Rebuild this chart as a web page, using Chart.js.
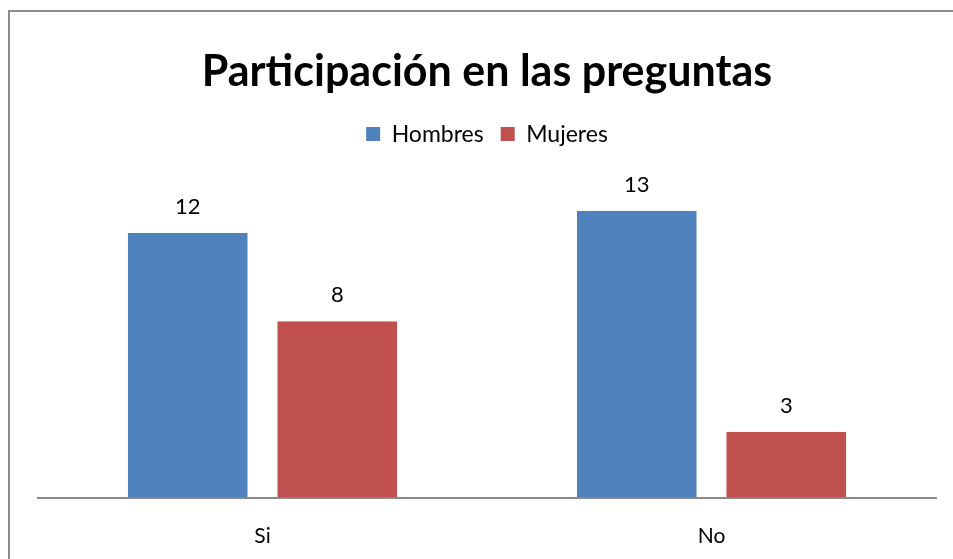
<!DOCTYPE html>
<html>
<head>
<meta charset="utf-8">
<script src="https://cdn.jsdelivr.net/npm/chart.js@4"></script>
<style>
  html, body { margin: 0; background: #fff; overflow: hidden; }
</style>
</head>
<body>
<canvas id="chart" width="953" height="559"></canvas>
<script>
const categories = ['Si', 'No'];
const hombres = [12, 13];
const mujeres = [8, 3];
const seriesNames = ['Hombres', 'Mujeres'];

const FONT = 'Lato, "Open Sans", sans-serif';

// outer chart frame, only the top and left edges are inside the picture
const frame = {
    id: 'frame',
    beforeDraw(chart) {
        const ctx = chart.ctx;
        ctx.save();
        ctx.strokeStyle = '#8c8c8c';
        ctx.lineWidth = 2;
        ctx.beginPath();
        ctx.moveTo(9, chart.height);
        ctx.lineTo(9, 11);
        ctx.lineTo(chart.width, 11);
        ctx.stroke();
        ctx.restore();
    }
};

// value labels above each bar
const valueLabels = {
    id: 'valueLabels',
    afterDatasetsDraw(chart) {
        const ctx = chart.ctx;
        ctx.save();
        ctx.font = '22px ' + FONT;
        ctx.fillStyle = '#000';
        ctx.textAlign = 'center';
        ctx.textBaseline = 'middle';
        chart.data.datasets.forEach(function(ds, i) {
            chart.getDatasetMeta(i).data.forEach(function(bar, j) {
                // bars carry a white border on one side, so shift to the coloured part
                const shift = i === 0 ? -7.5 : 7.5;
                ctx.fillText(ds.data[j], bar.x + shift, bar.y - 26);
            });
        });
        ctx.restore();
    }
};

new Chart(document.getElementById('chart').getContext('2d'), {
    type: 'bar',
    data: {
        labels: categories,
        datasets: [{
            label: seriesNames[0],
            data: hombres,
            backgroundColor: '#4f81bd',
            borderColor: '#ffffff',
            borderWidth: { right: 15, left: 0, top: 0, bottom: 0 },
            borderSkipped: false
        }, {
            label: seriesNames[1],
            data: mujeres,
            backgroundColor: '#c0504d',
            borderColor: '#ffffff',
            borderWidth: { left: 15, right: 0, top: 0, bottom: 0 },
            borderSkipped: false
        }]
    },
    options: {
        responsive: false,
        animation: false,
        layout: { padding: { left: 38, right: 17, top: 0, bottom: 0 } },
        plugins: {
            title: {
                display: true,
                text: 'Participación en las preguntas',
                color: '#000',
                font: { family: FONT, size: 43, weight: 'bold' },
                padding: { top: 46, bottom: 8 }
            },
            legend: {
                position: 'top',
                labels: {
                    color: '#000',
                    font: { family: FONT, size: 23 },
                    boxWidth: 14,
                    boxHeight: 14,
                    padding: 17,
                    generateLabels: function(chart) {
                        return chart.data.datasets.map(function(ds, i) {
                            return {
                                text: ds.label,
                                fillStyle: ds.backgroundColor,
                                strokeStyle: ds.backgroundColor,
                                lineWidth: 0,
                                fontColor: '#000',
                                datasetIndex: i,
                                hidden: false
                            };
                        });
                    }
                }
            },
            tooltip: { enabled: false }
        },
        scales: {
            x: {
                grid: { display: false, drawTicks: false },
                // draw the axis line on top of the bars so the white gaps don't cut it
                border: { display: true, color: '#898989', width: 2, z: 1 },
                ticks: { color: '#000', font: { family: FONT, size: 21 }, padding: 26 },
                afterFit: function(scale) {
                    scale.height = 61;
                }
            },
            y: {
                display: false,
                min: 0,
                max: 15.5
            }
        },
        datasets: {
            bar: { categoryPercentage: 0.6, barPercentage: 1 }
        }
    },
    plugins: [frame, valueLabels]
});
</script>
</body>
</html>
